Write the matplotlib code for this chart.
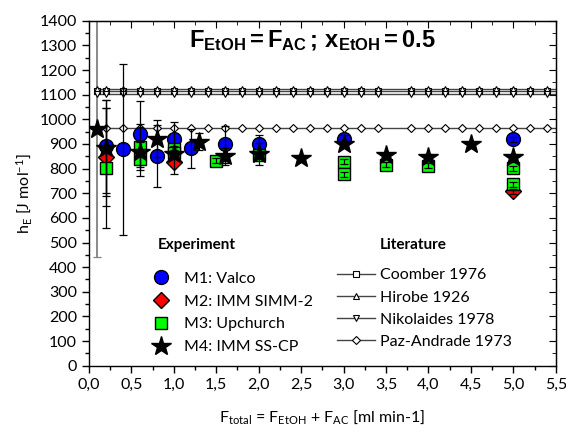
import matplotlib
matplotlib.use('Agg')
import matplotlib.pyplot as plt
from matplotlib.lines import Line2D
from matplotlib.ticker import MultipleLocator, FuncFormatter

plt.rcParams['font.family'] = ['Lato', 'DejaVu Sans']
plt.rcParams['mathtext.fontset'] = 'custom'
plt.rcParams['mathtext.rm'] = 'Lato'
plt.rcParams['mathtext.it'] = 'Lato'
plt.rcParams['mathtext.bf'] = 'Liberation Sans:bold'

# experiment data: flow rate [ml/min], h_E [J/mol], error
m1_x = [0.2, 0.4, 0.6, 0.8, 1.0, 1.2, 1.6, 2.0, 3.0, 5.0]
m1_y = [890, 878, 940, 852, 922, 882, 898, 902, 922, 920]
m1_err = [190, 348, 135, 125, 68, 80, 75, 34, 15, 10]

m2_x = [0.2, 1.0, 5.0]
m2_y = [848, 825, 708]
m2_err = [200, 45, 10]

m3_x = [0.2, 0.6, 0.6, 1.0, 1.0, 1.5, 2.0, 3.0, 3.0, 3.5, 4.0, 5.0, 5.0]
m3_y = [803, 888, 840, 878, 862, 833, 855, 828, 778, 815, 812, 801, 736]
m3_err = [245, 95, 70, 15, 15, 10, 10, 10, 10, 10, 10, 10, 10]

m4_x = [0.1, 0.2, 0.6, 0.8, 1.0, 1.3, 1.6, 2.0, 2.5, 3.0, 3.5, 4.0, 4.5, 5.0]
m4_y = [960, 882, 868, 922, 858, 910, 850, 858, 845, 902, 855, 848, 900, 848]
m4_err = [520, 195, 10, 75, 10, 35, 35, 45, 10, 10, 10, 10, 10, 10]

# literature values (constant)
lit_x = [0.1, 0.2, 0.4, 0.6, 0.8, 1.0, 1.2, 1.4, 1.6, 1.8, 2.0, 2.2, 2.4, 2.6,
         2.8, 3.0, 3.2, 3.4, 3.8, 4.0, 4.2, 4.4, 4.6, 4.8, 5.0, 5.2, 5.4]
lit_names = ['Coomber 1976', 'Hirobe 1926', 'Nikolaides 1978', 'Paz-Andrade 1973']
lit_values = [1115, 1122, 1102, 963]
lit_markers = ['s', '^', 'v', 'D']

fig = plt.figure(figsize=(5.66, 4.25), dpi=100)
ax = fig.add_axes([0.157, 0.1395, 0.825, 0.8115])

# literature lines
for val, mk in zip(lit_values, lit_markers):
    ax.hlines(val, 0.06, 5.5, color='#444444', lw=1.0, zorder=2)
    ax.plot(lit_x, [val] * len(lit_x), ls='none', marker=mk, ms=4.5 if mk != 'D' else 4,
            mfc='white', mec='black', mew=0.8, zorder=3)

series = [
    (m1_x, m1_y, m1_err, 'o', '#0000ff', 10, 'M1: Valco'),
    (m2_x, m2_y, m2_err, 'D', '#ff0000', 8.5, 'M2: IMM SIMM-2'),
    (m3_x, m3_y, m3_err, 's', '#00ff00', 8, 'M3: Upchurch'),
    (m4_x, m4_y, m4_err, '*', 'black', 15, 'M4: IMM SS-CP'),
]
exp_handles = []
for x, y, e, mk, col, ms, lab in series:
    ax.plot(x, y, ls='none', marker=mk, ms=ms, mfc=col, mec='black', mew=1.0, zorder=4)
    for xi, yi, ei in zip(x, y, e):
        grey = (mk == '*' and xi == 0.1)
        ax.errorbar([xi], [yi], yerr=[ei], fmt='none',
                    ecolor='#808080' if grey else 'black',
                    elinewidth=1.3 if grey else 0.9, capsize=3, capthick=0.9,
                    zorder=1 if grey else 5)
    exp_handles.append(Line2D([], [], ls='none', marker=mk, ms=ms, mfc=col, mec='black',
                              mew=1.0, label=lab))

lit_handles = [Line2D([], [], color='#444444', lw=1.0, marker=mk, ms=4.5 if mk != 'D' else 4,
                      mfc='white', mec='black', mew=0.8, label=n)
               for n, mk in zip(lit_names, lit_markers)]

ax.set_xlim(0, 5.5)
ax.set_ylim(0, 1400)
ax.xaxis.set_major_locator(MultipleLocator(0.5))
ax.xaxis.set_minor_locator(MultipleLocator(0.25))
ax.yaxis.set_major_locator(MultipleLocator(100))
ax.yaxis.set_minor_locator(MultipleLocator(50))
ax.xaxis.set_major_formatter(FuncFormatter(lambda v, p: f'{v:.1f}'.replace('.', ',')))
ax.tick_params(which='both', direction='out', labelsize=11.5, width=1.0)
ax.tick_params(which='major', length=5)
ax.tick_params(which='minor', length=3)
for s in ax.spines.values():
    s.set_linewidth(1.0)

# mirrored ticks on top/right, pointing inward
axt = ax.secondary_xaxis('top')
axt.xaxis.set_major_locator(MultipleLocator(0.5))
axt.xaxis.set_minor_locator(MultipleLocator(0.25))
axt.tick_params(which='both', direction='in', labeltop=False)
axt.tick_params(which='major', length=5)
axt.tick_params(which='minor', length=3)
axr = ax.secondary_yaxis('right')
axr.yaxis.set_major_locator(MultipleLocator(100))
axr.yaxis.set_minor_locator(MultipleLocator(50))
axr.tick_params(which='both', direction='in', labelright=False)
axr.tick_params(which='major', length=5)
axr.tick_params(which='minor', length=3)

ax.set_ylabel(r'h$_{\mathrm{E}}$ [J mol$^{-1}$]', fontsize=11.5, labelpad=4)
ax.set_xlabel(r'F$_{\mathrm{total}}$ = F$_{\mathrm{EtOH}}$ + F$_{\mathrm{AC}}$ [ml min-1]',
              fontsize=11.5, labelpad=12)

ax.text(0.478, 0.944, r'$\mathbf{F_{EtOH}=F_{AC}\,;\,x_{EtOH}=0.5}$',
        transform=ax.transAxes, ha='center', va='center', fontsize=17)

ax.text(0.148, 0.350, 'Experiment', transform=ax.transAxes, ha='left', va='center',
        fontsize=11, fontweight='bold')
ax.text(0.623, 0.350, 'Literature', transform=ax.transAxes, ha='left', va='center',
        fontsize=11, fontweight='bold')

leg1 = ax.legend(handles=exp_handles, loc='upper left',
                 bbox_to_anchor=(0.111, 0.306), frameon=False, fontsize=11.5,
                 handlelength=1.2, handletextpad=0.8, labelspacing=0.55,
                 borderpad=0.2)
ax.add_artist(leg1)
leg2 = ax.legend(handles=lit_handles, loc='upper left',
                 bbox_to_anchor=(0.507, 0.315), frameon=False, fontsize=11.5,
                 handlelength=2.4, handletextpad=0.3, labelspacing=0.5,
                 borderpad=0.2)

fig.savefig('out.png', dpi=100)
